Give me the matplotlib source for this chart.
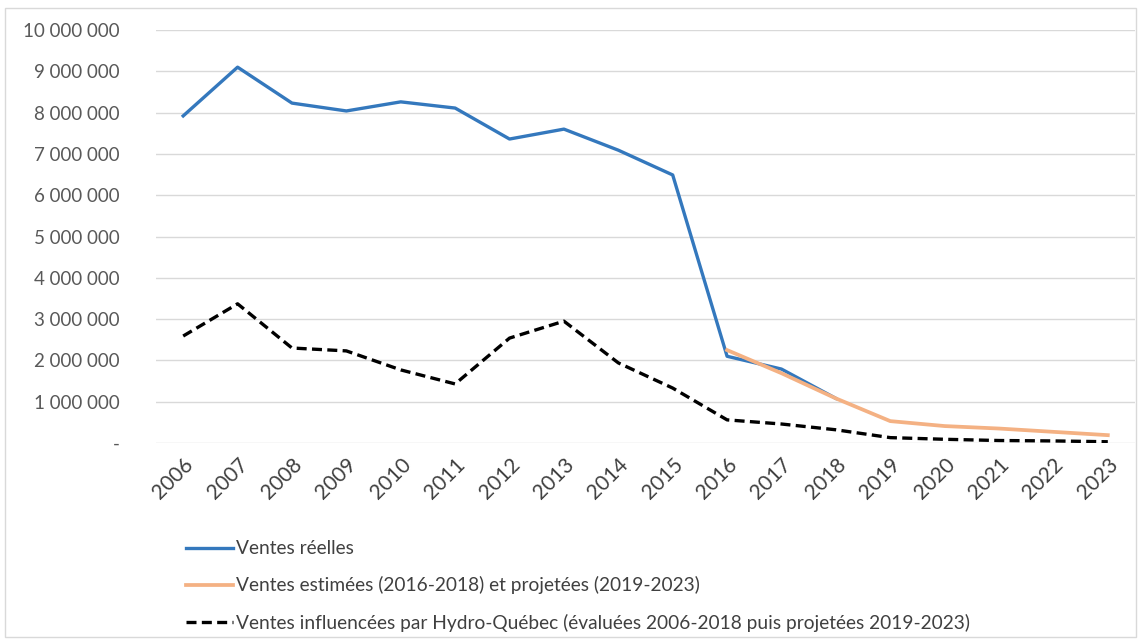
import matplotlib
matplotlib.use("Agg")
import matplotlib.pyplot as plt
from matplotlib.ticker import FuncFormatter, MultipleLocator
from matplotlib.lines import Line2D
from matplotlib.patches import Rectangle

plt.rcParams['font.family'] = ['Lato', 'DejaVu Sans']

years = [str(y) for y in range(2006, 2024)]
ventes_reelles = [7.92e6, 9.10e6, 8.23e6, 8.04e6, 8.26e6, 8.11e6, 7.36e6, 7.60e6,
                  7.09e6, 6.49e6, 2.10e6, 1.79e6, 1.08e6]
ventes_estimees = [2.25e6, 1.69e6, 1.08e6, 0.53e6, 0.41e6, 0.35e6, 0.27e6, 0.19e6]
ventes_hq = [2.59e6, 3.37e6, 2.30e6, 2.23e6, 1.77e6, 1.43e6, 2.54e6, 2.95e6, 1.94e6,
             1.33e6, 0.56e6, 0.46e6, 0.32e6, 0.13e6, 0.09e6, 0.06e6, 0.05e6, 0.03e6]
labels = ["Ventes réelles",
          "Ventes estimées (2016-2018) et projetées (2019-2023)",
          "Ventes influencées par Hydro-Québec (évaluées 2006-2018 puis projetées 2019-2023)"]

blue = "#3478bd"
orange = "#f4b183"
dash = (0, (3, 1.6))

fig = plt.figure(figsize=(11.41, 6.40), dpi=100)
fig.patches.append(Rectangle((0.004, 0.004), 0.992, 0.984, transform=fig.transFigure,
                             fill=False, edgecolor="#d9d9d9", linewidth=1))
ax = fig.add_axes([156/1141, 1-443/640, (1135-156)/1141, (443-30)/640])

x = list(range(len(years)))
ax.plot(x[:len(ventes_reelles)], ventes_reelles, color=blue, lw=2.4, zorder=3)
ax.plot(x[10:10+len(ventes_estimees)], ventes_estimees, color=orange, lw=2.7, zorder=4)
ax.plot(x, ventes_hq, color="black", lw=2.4, ls=dash, zorder=3)

ax.set_xlim(-0.5, len(years)-0.5)
ax.set_ylim(0, 10e6)
ax.yaxis.set_major_locator(MultipleLocator(1e6))

def fmt(v, pos):
    if abs(v) < 1:
        return "-"
    return f"{int(round(v)):,}".replace(",", " ")

ax.yaxis.set_major_formatter(FuncFormatter(fmt))
ax.set_xticks(x)
ax.set_xticklabels(years, rotation=45, ha='right', rotation_mode='anchor', fontsize=15, color="#404040")
ax.tick_params(axis='x', length=0, pad=8)
ax.tick_params(axis='y', length=0, labelsize=13.5, labelcolor="#595959")
ax.yaxis.set_tick_params(pad=26)
ax.grid(axis='y', color="#d9d9d9", lw=1)
ax.set_axisbelow(True)
for s in ax.spines.values():
    s.set_visible(False)

handles = [Line2D([], [], color=blue, lw=2.4),
           Line2D([], [], color=orange, lw=2.7),
           Line2D([], [], color="black", lw=2.4, ls=dash)]
fig.legend(handles, labels, loc='upper left', bbox_to_anchor=(169/1141, 1-523/640),
           frameon=False, fontsize=13.8, handlelength=2.45, handletextpad=0.12,
           labelspacing=1.0, labelcolor="#404040")

fig.savefig("out.png", dpi=100)
